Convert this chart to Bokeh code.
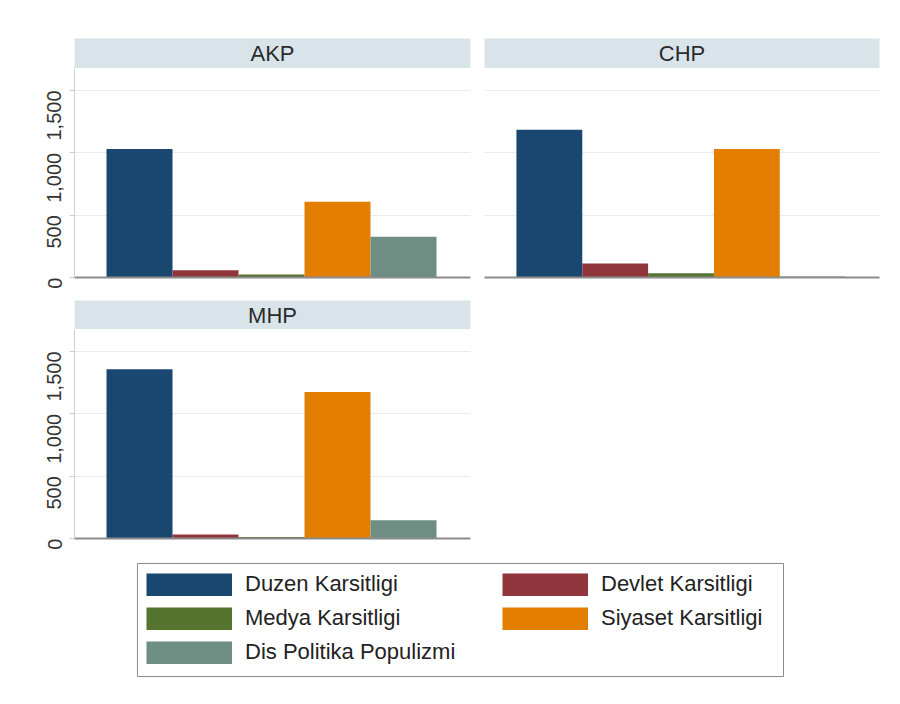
import math
from bokeh.plotting import figure
from bokeh.layouts import column, row
from bokeh.models import (Range1d, FixedTicker, NumeralTickFormatter, Legend,
                          LegendItem, ColumnDataSource)
from bokeh.embed import file_html
from bokeh.resources import INLINE
from bokeh.core.properties import value

# ---------------- data ----------------
categories = ["Duzen Karsitligi", "Devlet Karsitligi", "Medya Karsitligi",
              "Siyaset Karsitligi", "Dis Politika Populizmi"]
colors = ["#1a476f", "#90353b", "#55752f", "#e37e00", "#6e8e84"]
parties = ["AKP", "CHP", "MHP"]
akp = [1030, 59, 25, 607, 326]
chp = [1184, 112, 35, 1030, 8]
mhp = [1358, 32, 13, 1174, 147]
y_ticks = [0, 500, 1000, 1500]
y_max = 1676

FONT = "Liberation Sans"
STRIP = "#d9e4ea"
X_START, X_END = -0.985, 5.015


def strip_fig(label, width, height, left, right, top):
    p = figure(width=width, height=height, output_backend="svg", toolbar_location=None,
               x_range=Range1d(X_START, X_END), y_range=Range1d(0, 1),
               x_axis_location=None, y_axis_location=None,
               min_border_left=left, min_border_right=right,
               min_border_top=top, min_border_bottom=0)
    p.background_fill_color = STRIP
    p.border_fill_color = "white"
    p.outline_line_color = None
    p.grid.visible = False
    xr = p.x_range
    p.text(x=[(xr.start + xr.end) / 2], y=[0.5], text=[label],
           text_align="center", text_baseline="middle",
           text_font=value(FONT), text_font_size="22px", text_color="#2b2b2b")
    return p


def panel_fig(values, width, height, left, right, bottom, show_y):
    p = figure(width=width, height=height, output_backend="svg", toolbar_location=None,
               x_range=Range1d(X_START, X_END), y_range=Range1d(0, y_max),
               y_axis_location="left" if show_y else None,
               min_border_left=left, min_border_right=right,
               min_border_top=0, min_border_bottom=bottom)
    p.outline_line_color = None
    p.border_fill_color = "white"
    p.background_fill_color = "white"
    src = ColumnDataSource(dict(x=list(range(len(categories))), top=values,
                                color=colors, cat=categories))
    p.vbar(x="x", top="top", bottom=0, width=1.0, fill_color="color",
           line_color=None, source=src)
    # x axis: line only
    p.xaxis.ticker = FixedTicker(ticks=[])
    p.xaxis.axis_line_color = "#8c8c8c"
    p.xaxis.axis_line_width = 2
    p.xaxis.major_tick_line_color = None
    p.xaxis.minor_tick_line_color = None
    p.xaxis.major_label_text_font_size = "0px"
    p.xgrid.visible = False
    p.ygrid.ticker = FixedTicker(ticks=y_ticks)
    p.ygrid.grid_line_color = "#e8ecef"
    p.ygrid.grid_line_width = 1
    if show_y:
        ax = p.yaxis[0]
        ax.ticker = FixedTicker(ticks=y_ticks)
        ax.formatter = NumeralTickFormatter(format="0,0")
        ax.major_label_orientation = math.pi / 2
        ax.major_label_text_font = FONT
        ax.major_label_text_font_size = "20px"
        ax.major_label_text_color = "#333333"
        ax.major_label_standoff = 15
        ax.axis_line_color = "#cfcfcf"
        ax.major_tick_line_color = "#cfcfcf"
        ax.major_tick_out = 5
        ax.major_tick_in = 0
        ax.minor_tick_line_color = None
    return p


s_akp = strip_fig(parties[0], 477, 68, 74, 7, 38)
p_akp = panel_fig(akp, 477, 232, 74, 7, 23, True)
s_chp = strip_fig(parties[1], 415, 68, 7, 13, 38)
p_chp = panel_fig(chp, 415, 232, 7, 13, 23, False)
s_mhp = strip_fig(parties[2], 477, 29, 74, 7, 0)
p_mhp = panel_fig(mhp, 477, 224, 74, 7, 15, True)

# ---------------- legend ----------------
# the frame of this figure is the legend box
leg = figure(width=892, height=143, output_backend="svg", toolbar_location=None,
             x_range=Range1d(0, 1), y_range=Range1d(0, 1),
             x_axis_location=None, y_axis_location=None,
             min_border_left=137, min_border_right=109,
             min_border_top=10, min_border_bottom=20)
leg.outline_line_color = "#8c8c8c"
leg.outline_line_width = 1
leg.grid.visible = False
renderers = []
for col in colors:
    r = leg.line(x=[float("nan")], y=[float("nan")], line_color=col, line_width=23)
    renderers.append(r)

common = dict(glyph_width=86, glyph_height=23, label_standoff=13, padding=9,
              spacing=8, border_line_color=None, margin=0,
              label_text_font=FONT, label_text_font_size="22px",
              label_text_color="#222222", background_fill_alpha=0.0)
left_idx = [0, 2, 4]
right_idx = [1, 3]
legend_a = Legend(items=[LegendItem(label=categories[i], renderers=[renderers[i]]) for i in left_idx],
                  location=(9, 11), **common)
legend_b = Legend(items=[LegendItem(label=categories[i], renderers=[renderers[i]]) for i in right_idx],
                  location=(365, 45), **common)
leg.add_layout(legend_a)
leg.add_layout(legend_b)

layout = column(row(column(s_akp, p_akp), column(s_chp, p_chp)),
                column(s_mhp, p_mhp),
                leg)

open("out.html", "w").write(file_html(layout, INLINE))
